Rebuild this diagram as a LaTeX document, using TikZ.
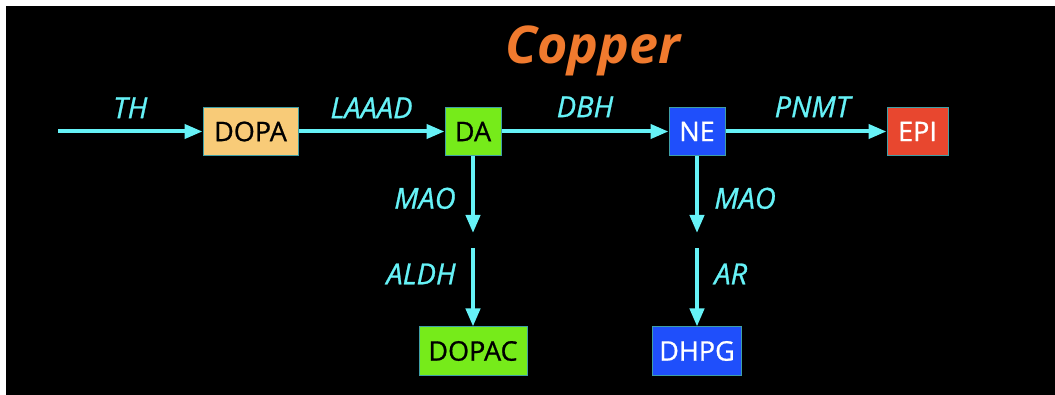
\documentclass[tikz,border=0pt]{standalone}
\usepackage{fontspec}
\setmainfont{Open Sans}
\newfontfamily\heavyfont[FakeBold=0.8]{Open Sans}
\usetikzlibrary{arrows.meta}
\usetikzlibrary{positioning}

\definecolor{flowcyan}{HTML}{66F2F7}
\definecolor{boxedge}{HTML}{3F9FA6}
\definecolor{dopacol}{HTML}{F8CB78}
\definecolor{greencol}{HTML}{76EB1A}
\definecolor{bluecol}{HTML}{1F4FFB}
\definecolor{redcol}{HTML}{E8472F}
\definecolor{coppercol}{HTML}{F07A2E}

\tikzset{
    chem/.style={draw=boxedge, line width=1pt, minimum height=48pt, inner sep=2pt,
        font=\heavyfont\fontsize{27}{29}\selectfont},
    enzyme/.style={text=flowcyan, font=\heavyfont\fontsize{29}{31}\selectfont\itshape},
    flow/.style={draw=flowcyan, line width=4pt, -{Triangle[length=18pt,width=14pt]}},
}

\begin{document}
\begin{tikzpicture}[x=1pt,y=-1pt]
    \fill[white] (0,0) rectangle (1055,395);
    \fill[black] (6,6) rectangle (1055,395);
    \useasboundingbox (0,0) rectangle (1055,395);

    \node[text=coppercol, font=\fontsize{52}{56}\selectfont\bfseries\itshape] (title) at (593,51) {Copper};

    \coordinate (start) at (58,131.5);
    \node[chem, fill=dopacol, minimum width=95pt] (DOPA) at (250.5,131.5) {DOPA};
    \node[chem, fill=greencol, minimum width=56pt] (DA) at (473,131.5) {DA};
    \node[chem, fill=bluecol, text=white, minimum width=56pt] (NE) at (697,131.5) {NE};
    \node[chem, fill=redcol, text=white, minimum width=61pt] (EPI) at (917.5,131.5) {EPI};
    \node[chem, fill=greencol, minimum width=108pt] (DOPAC) at (473,351) {DOPAC};
    \node[chem, fill=bluecol, text=white, minimum width=89pt] (DHPG) at (697,351) {DHPG};

    \coordinate (DAend) at (473,233);
    \coordinate (ALDHstart) at (473,248);
    \coordinate (NEend) at (697,233);
    \coordinate (ARstart) at (697,248);

    \draw[flow] (start) -- node[enzyme, above=8pt] {TH} (DOPA);
    \draw[flow] (DOPA) -- node[enzyme, above=8pt] {LAAAD} (DA);
    \draw[flow] (DA) -- node[enzyme, above=9pt] {DBH} (NE);
    \draw[flow] (NE) -- node[enzyme, above=9pt, pos=0.54] {PNMT} (EPI);

    \draw[flow] (DA) -- node[enzyme, left=12pt, pos=0.55] {MAO} (DAend);
    \draw[flow] (ALDHstart) -- node[enzyme, left=12pt, pos=0.33] {ALDH} (DOPAC);
    \draw[flow] (NE) -- node[enzyme, right=12pt, pos=0.55] {MAO} (NEend);
    \draw[flow] (ARstart) -- node[enzyme, right=12pt, pos=0.33] {AR} (DHPG);
\end{tikzpicture}
\end{document}
